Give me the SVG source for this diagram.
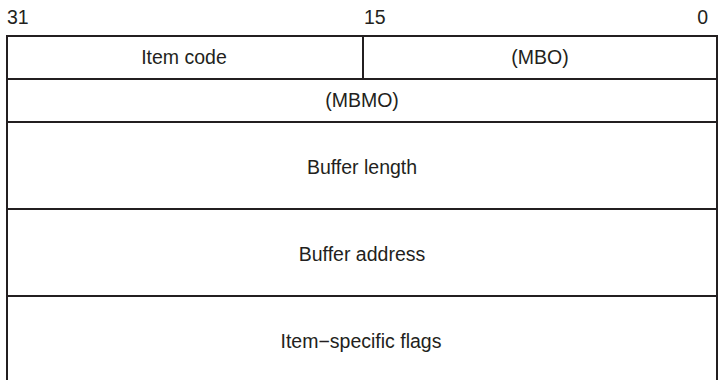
<svg xmlns="http://www.w3.org/2000/svg" width="721" height="380" viewBox="0 0 721 380">
<style>
text{font-family:"Liberation Sans",Arial,sans-serif;font-size:19.5px;fill:#231f20}
.c{text-anchor:middle}
line{stroke:#231f20;stroke-width:2}
</style>
<rect width="721" height="380" fill="#fff"/>
<g id="bits">
<text x="7" y="24">31</text>
<text x="364" y="24">15</text>
<text x="708" y="24" text-anchor="end">0</text>
</g>
<g id="frame">
<line x1="7" y1="36" x2="717" y2="36"/>
<line x1="7" y1="35" x2="7" y2="380"/>
<line x1="717" y1="35" x2="717" y2="380"/>
<line x1="7" y1="79" x2="717" y2="79"/>
<line x1="363" y1="36" x2="363" y2="79"/>
<line x1="7" y1="122" x2="717" y2="122"/>
<line x1="7" y1="209" x2="717" y2="209"/>
<line x1="7" y1="296" x2="717" y2="296"/>
</g>
<g id="item-code"><text class="c" x="184" y="64">Item code</text></g>
<g id="mbo"><text class="c" x="540" y="64">(MBO)</text></g>
<g id="mbmo"><text class="c" x="362" y="107">(MBMO)</text></g>
<g id="buffer-length"><text class="c" x="362" y="174">Buffer length</text></g>
<g id="buffer-address"><text class="c" x="362" y="261">Buffer address</text></g>
<g id="item-flags"><text class="c" x="361" y="348">Item−specific flags</text></g>
</svg>
